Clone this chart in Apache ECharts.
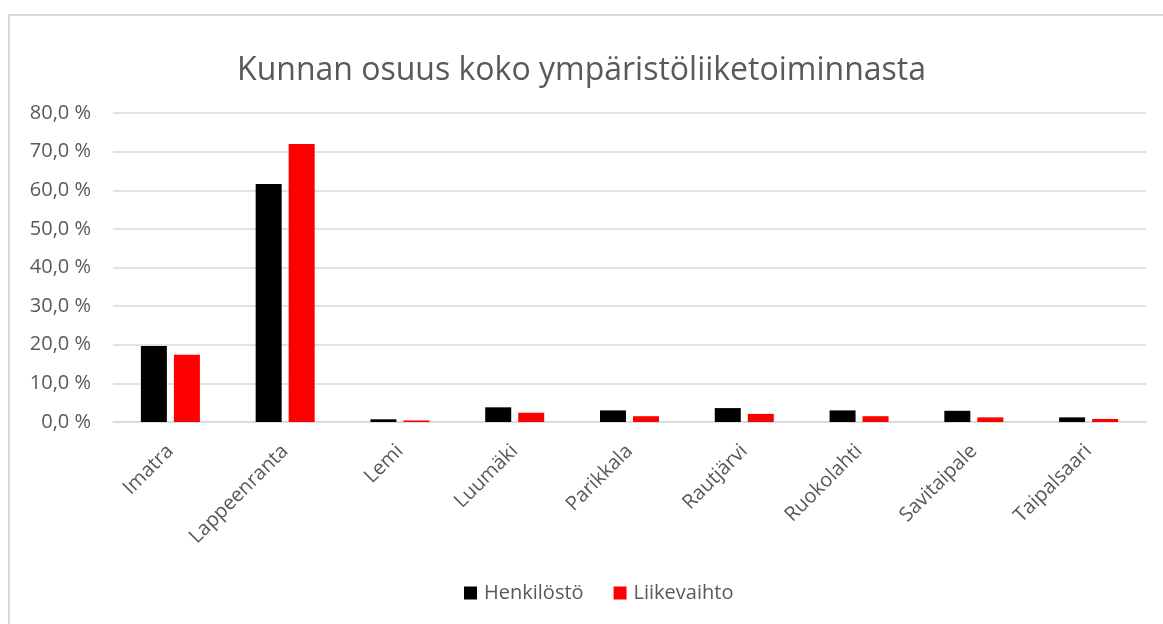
<!DOCTYPE html>
<html>
<head>
<meta charset="utf-8">
<script src="https://cdn.jsdelivr.net/npm/echarts@6/dist/echarts.min.js"></script>
<style>
  html, body { margin: 0; padding: 0; background: #fff; }
  #frame {
    position: absolute; left: 8px; top: 14px; width: 1200px; height: 700px;
    border: 2px solid #d9d9d9; box-sizing: border-box;
  }
  #chart { position: absolute; left: 0; top: 0; width: 1163px; height: 624px; }
</style>
</head>
<body>
<div id="frame"></div>
<div id="chart"></div>
<script>
// kunnat
var kunnat = ['Imatra', 'Lappeenranta', 'Lemi', 'Luumäki', 'Parikkala', 'Rautjärvi', 'Ruokolahti', 'Savitaipale', 'Taipalsaari'];
// osuudet prosentteina
var henkilosto = [19.7, 61.6, 0.7, 3.8, 3.0, 3.6, 3.0, 2.9, 1.2];
var liikevaihto = [17.4, 72.0, 0.4, 2.4, 1.5, 2.1, 1.5, 1.2, 0.8];
var yTicks = [0, 10, 20, 30, 40, 50, 60, 70, 80];

var txt = '#595959';
var fam = '"Open Sans", sans-serif';

var myChart = echarts.init(document.getElementById('chart'));
var option = {
  animation: false,
  textStyle: { fontFamily: fam },
  title: {
    text: 'Kunnan osuus koko ympäristöliiketoiminnasta',
    left: 'center',
    top: 50,
    textStyle: { color: txt, fontSize: 32, fontWeight: 'normal', fontFamily: fam }
  },
  legend: {
    bottom: 16,
    left: 459,
    itemWidth: 13,
    itemHeight: 13,
    itemGap: 30,
    icon: 'rect',
    textStyle: { color: txt, fontSize: 20, fontFamily: fam, padding: [0, 0, 0, 2] },
    data: ['Henkilöstö', 'Liikevaihto']
  },
  grid: { left: 113, right: 17, top: 113, bottom: 202, containLabel: false },
  xAxis: {
    type: 'category',
    data: kunnat,
    axisTick: { show: false },
    axisLine: { lineStyle: { color: '#d9d9d9', width: 1.5 } },
    axisLabel: { rotate: 45, color: txt, fontSize: 20, margin: 26, interval: 0, fontFamily: fam }
  },
  yAxis: {
    type: 'value',
    min: yTicks[0],
    max: yTicks[yTicks.length - 1],
    interval: 10,
    axisLine: { show: false },
    axisTick: { show: false },
    splitLine: { lineStyle: { color: '#d9d9d9', width: 1.5 } },
    axisLabel: {
      color: txt, fontSize: 20, margin: 22, fontFamily: fam,
      formatter: function (v) { return v.toFixed(1).replace('.', ',') + ' %'; }
    }
  },
  series: [
    {
      name: 'Henkilöstö',
      type: 'bar',
      barWidth: 26,
      barGap: '27%',
      itemStyle: { color: '#000000' },
      data: henkilosto
    },
    {
      name: 'Liikevaihto',
      type: 'bar',
      barWidth: 26,
      itemStyle: { color: '#ff0000' },
      data: liikevaihto
    }
  ]
};
option && myChart.setOption(option);
</script>
</body>
</html>
